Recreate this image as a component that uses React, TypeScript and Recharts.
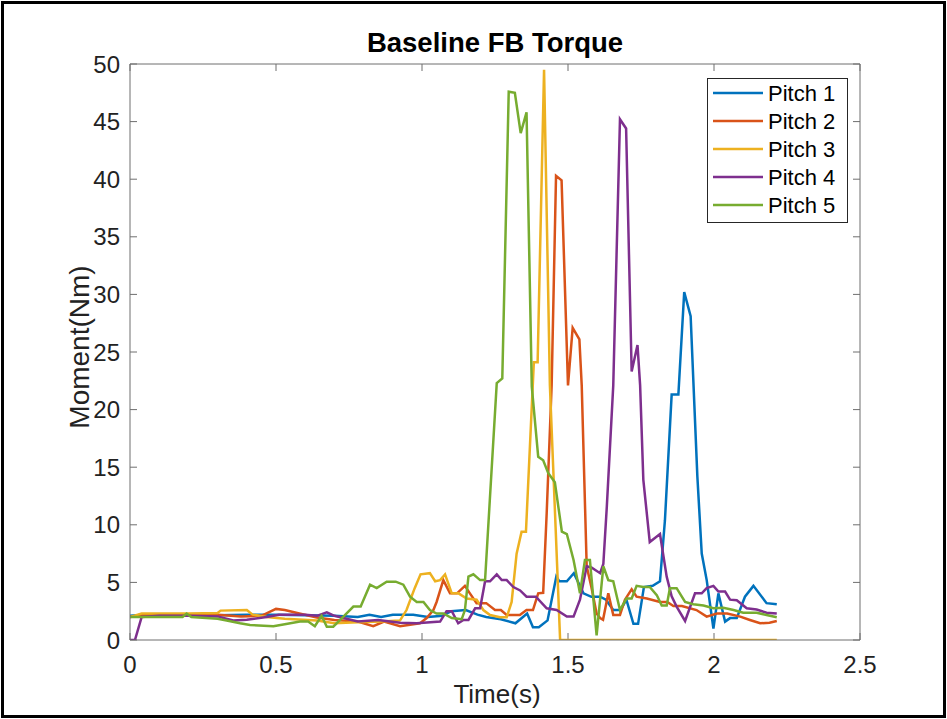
import { LineChart, Line, XAxis, YAxis, ReferenceLine } from 'recharts'

const timeTicks = [0, 0.5, 1, 1.5, 2, 2.5]
const momentTicks = [0, 5, 10, 15, 20, 25, 30, 35, 40, 45, 50]

const pitch1Time = [0, 0.05, 0.2, 0.3, 0.4, 0.5, 0.6, 0.7, 0.78, 0.82, 0.86, 0.9, 0.97, 1.02, 1.07, 1.1, 1.15, 1.19, 1.22, 1.27, 1.32, 1.36, 1.38, 1.4, 1.43, 1.46, 1.47, 1.496, 1.52, 1.553, 1.58, 1.61, 1.63, 1.655, 1.68, 1.7, 1.724, 1.74, 1.76, 1.79, 1.815, 1.832, 1.855, 1.878, 1.898, 1.92, 1.943, 1.958, 1.975, 1.998, 2.015, 2.038, 2.055, 2.078, 2.106, 2.135, 2.18, 2.215]
const pitch1Moment = [2.1, 2.2, 2.2, 2.15, 2.2, 2.2, 2.15, 2.1, 2.0, 2.2, 2.0, 2.2, 2.2, 2.0, 2.1, 2.5, 2.6, 2.2, 2.0, 1.8, 1.45, 2.3, 1.1, 1.1, 1.7, 5.5, 5.1, 5.1, 5.8, 4.05, 3.75, 3.76, 3.5, 2.6, 2.6, 3.5, 1.4, 1.4, 4.6, 4.7, 5.1, 10.4, 21.3, 21.3, 30.2, 28.1, 14.2, 7.5, 5.2, 1.0, 4.05, 1.6, 1.9, 1.9, 3.76, 4.7, 3.2, 3.1]

const pitch2Time = [0, 0.05, 0.2, 0.3, 0.38, 0.45, 0.5, 0.53, 0.58, 0.64, 0.7, 0.78, 0.833, 0.87, 0.925, 0.993, 1.016, 1.039, 1.05, 1.073, 1.096, 1.12, 1.147, 1.164, 1.187, 1.22, 1.25, 1.27, 1.29, 1.335, 1.358, 1.38, 1.398, 1.415, 1.427, 1.444, 1.459, 1.478, 1.5, 1.516, 1.539, 1.547, 1.564, 1.58, 1.598, 1.61, 1.62, 1.638, 1.655, 1.678, 1.695, 1.718, 1.735, 1.77, 1.815, 1.84, 1.861, 1.89, 1.94, 1.975, 2.01, 2.045, 2.09, 2.123, 2.158, 2.19, 2.215]
const pitch2Moment = [2.0, 2.2, 2.2, 2.2, 2.05, 2.1, 2.7, 2.6, 2.3, 1.95, 1.73, 1.6, 1.2, 1.6, 1.2, 1.45, 1.9, 2.6, 3.3, 5.2, 4.05, 4.05, 4.7, 4.05, 3.2, 3.2, 2.6, 2.6, 2.17, 2.17, 2.6, 2.6, 4.05, 4.1, 11.0, 22.1, 40.3, 39.9, 22.1, 27.1, 26.1, 22.1, 6.4, 4.6, 2.3, 1.9, 1.75, 4.05, 2.17, 2.17, 3.5, 4.4, 3.76, 3.6, 3.3, 3.3, 2.95, 2.95, 2.6, 2.03, 2.3, 2.3, 2.03, 1.74, 1.45, 1.5, 1.65]

const pitch3Time = [0, 0.04, 0.2, 0.3, 0.31, 0.4, 0.42, 0.468, 0.53, 0.64, 0.7, 0.78, 0.86, 0.925, 0.947, 0.975, 0.995, 1.027, 1.045, 1.062, 1.079, 1.102, 1.125, 1.153, 1.187, 1.21, 1.233, 1.267, 1.29, 1.307, 1.324, 1.341, 1.356, 1.383, 1.396, 1.418, 1.438, 1.473, 2.215]
const pitch3Moment = [2.0, 2.3, 2.3, 2.35, 2.55, 2.6, 2.2, 2.0, 1.85, 1.7, 1.45, 1.55, 1.6, 1.7, 2.6, 4.5, 5.7, 5.8, 5.1, 5.2, 5.7, 4.05, 4.05, 3.6, 3.5, 2.6, 2.17, 1.97, 1.97, 3.3, 7.5, 9.4, 9.4, 24.1, 24.1, 49.5, 22.1, 0, 0]

const pitch4Time = [0, 0.017, 0.04, 0.1, 0.2, 0.3, 0.33, 0.354, 0.4, 0.468, 0.51, 0.6, 0.64, 0.674, 0.7, 0.78, 0.85, 0.925, 0.982, 1.062, 1.084, 1.102, 1.124, 1.142, 1.159, 1.182, 1.199, 1.216, 1.233, 1.256, 1.273, 1.29, 1.313, 1.336, 1.358, 1.39, 1.427, 1.461, 1.496, 1.519, 1.541, 1.564, 1.58, 1.61, 1.621, 1.633, 1.655, 1.678, 1.699, 1.718, 1.738, 1.747, 1.758, 1.78, 1.815, 1.838, 1.855, 1.872, 1.901, 1.935, 1.958, 1.975, 1.998, 2.015, 2.038, 2.055, 2.078, 2.112, 2.146, 2.18, 2.215]
const pitch4Moment = [0, 0, 2.0, 2.1, 2.1, 2.05, 1.85, 1.7, 1.75, 2.0, 2.2, 2.2, 2.1, 2.4, 2.1, 1.6, 1.73, 1.5, 1.45, 1.6, 2.5, 2.5, 1.45, 1.74, 1.74, 2.75, 2.75, 5.1, 5.1, 5.7, 5.2, 5.2, 4.6, 4.3, 3.76, 3.76, 2.75, 2.6, 2.03, 2.03, 3.5, 6.4, 6.3, 5.8, 6.6, 11.6, 22.1, 45.2, 44.4, 23.3, 25.6, 22.1, 13.9, 8.5, 9.2, 5.5, 3.8, 2.9, 1.65, 4.05, 4.05, 4.5, 4.7, 4.2, 4.2, 3.5, 3.45, 2.75, 2.65, 2.37, 2.3]

const pitch5Time = [0, 0.18, 0.194, 0.21, 0.3, 0.331, 0.377, 0.411, 0.491, 0.53, 0.582, 0.61, 0.633, 0.656, 0.674, 0.696, 0.73, 0.765, 0.79, 0.822, 0.845, 0.879, 0.91, 0.936, 0.959, 0.982, 1.005, 1.027, 1.05, 1.073, 1.102, 1.136, 1.147, 1.159, 1.176, 1.199, 1.216, 1.256, 1.275, 1.297, 1.318, 1.338, 1.358, 1.376, 1.398, 1.415, 1.432, 1.455, 1.479, 1.496, 1.519, 1.541, 1.558, 1.575, 1.598, 1.621, 1.638, 1.655, 1.678, 1.7, 1.718, 1.735, 1.758, 1.78, 1.804, 1.821, 1.838, 1.849, 1.872, 1.901, 1.929, 1.964, 1.998, 2.032, 2.067, 2.1, 2.146, 2.18, 2.215]
const pitch5Moment = [2.0, 2.0, 2.3, 2.0, 1.85, 1.7, 1.45, 1.3, 1.2, 1.36, 1.6, 1.6, 1.2, 2.1, 1.15, 1.15, 2.0, 2.9, 2.9, 4.8, 4.5, 5.06, 5.06, 4.8, 3.76, 3.3, 3.3, 2.6, 2.3, 2.3, 1.9, 1.8, 2.6, 5.5, 5.7, 5.2, 5.2, 22.3, 22.7, 47.6, 47.5, 44.0, 45.8, 22.0, 15.9, 15.6, 14.5, 13.7, 9.4, 9.2, 6.95, 4.05, 6.95, 6.95, 0.4, 6.4, 5.2, 5.1, 2.6, 3.6, 3.6, 4.7, 4.6, 4.6, 3.9, 3.0, 3.0, 4.5, 4.5, 3.3, 3.1, 3.0, 2.75, 2.8, 2.6, 2.37, 2.37, 2.17, 1.97]

const series = [
  { name: 'Pitch 1', color: '#0072BD', time: pitch1Time, moment: pitch1Moment },
  { name: 'Pitch 2', color: '#D95319', time: pitch2Time, moment: pitch2Moment },
  { name: 'Pitch 3', color: '#EDB120', time: pitch3Time, moment: pitch3Moment },
  { name: 'Pitch 4', color: '#7E2F8E', time: pitch4Time, moment: pitch4Moment },
  { name: 'Pitch 5', color: '#77AC30', time: pitch5Time, moment: pitch5Moment },
]

const font = '"Liberation Sans", Arial, sans-serif'
const axisGray = '#6e6e6e'
const ink = '#222'
const X_MAX = 2.5
const Y_MAX = 50
// inner tick length, 7px, expressed in data units (plot area is 730 x 576 px)
const TICK_X = X_MAX * 7 / 730
const TICK_Y = Y_MAX * 7 / 576
const axisStroke = { stroke: axisGray, strokeWidth: 1 }

const BottomTick = (p: any) => (
  <text x={p.x} y={p.y + 33} textAnchor="middle" fontSize={24} fontFamily={font} fill={ink}>{p.payload.value}</text>
)
const LeftTick = (p: any) => (
  <text x={p.x - 10} y={p.y + 8.5} textAnchor="end" fontSize={24} fontFamily={font} fill={ink}>{p.payload.value}</text>
)

export default function App() {
  return (
    <div style={{ position: 'absolute', left: 0, top: 0, width: 947, height: 719, background: '#fff', fontFamily: font }}>
      <LineChart width={947} height={719} margin={{ top: 54, right: 77, bottom: 39, left: 70 }}>
        <XAxis xAxisId={0} dataKey="t" type="number" domain={[0, X_MAX]} ticks={timeTicks} allowDataOverflow interval={0}
          height={40} tickSize={0} tickMargin={0} tickLine={false} axisLine={axisStroke} tick={BottomTick} />
        <XAxis xAxisId="top" orientation="top" type="number" domain={[0, X_MAX]} ticks={timeTicks} allowDataOverflow interval={0}
          height={10} tickSize={0} tickLine={false} axisLine={axisStroke} tick={false} />
        <YAxis yAxisId={0} type="number" domain={[0, Y_MAX]} ticks={momentTicks} allowDataOverflow interval={0}
          width={60} tickSize={0} tickMargin={0} tickLine={false} axisLine={axisStroke} tick={LeftTick} />
        <YAxis yAxisId="right" orientation="right" type="number" domain={[0, Y_MAX]} ticks={momentTicks} allowDataOverflow interval={0}
          width={10} tickSize={0} tickLine={false} axisLine={axisStroke} tick={false} />
        {timeTicks.map(t => (
          <ReferenceLine key={'xb' + t} segment={[{ x: t, y: 0 }, { x: t, y: TICK_Y }]} stroke={axisGray} ifOverflow="visible" />
        ))}
        {timeTicks.map(t => (
          <ReferenceLine key={'xt' + t} segment={[{ x: t, y: Y_MAX - TICK_Y }, { x: t, y: Y_MAX }]} stroke={axisGray} ifOverflow="visible" />
        ))}
        {momentTicks.map(m => (
          <ReferenceLine key={'yl' + m} segment={[{ x: 0, y: m }, { x: TICK_X, y: m }]} stroke={axisGray} ifOverflow="visible" />
        ))}
        {momentTicks.map(m => (
          <ReferenceLine key={'yr' + m} segment={[{ x: X_MAX - TICK_X, y: m }, { x: X_MAX, y: m }]} stroke={axisGray} ifOverflow="visible" />
        ))}
        {series.map(s => (
          <Line key={s.name} name={s.name} data={s.time.map((t, i) => ({ t, v: s.moment[i] }))} dataKey="v"
            type="linear" stroke={s.color} strokeWidth={2.5} dot={false} isAnimationActive={false} />
        ))}
      </LineChart>
      <svg width={947} height={719} style={{ position: 'absolute', left: 0, top: 0, pointerEvents: 'none' }}>
        <text x={495} y={52} textAnchor="middle" fontSize={27.5} fontWeight="bold" fontFamily={font} fill="#000">Baseline FB Torque</text>
        <text x={497} y={703} textAnchor="middle" fontSize={26} fontFamily={font} fill={ink}>Time(s)</text>
        <text transform="translate(89,347) rotate(-90)" textAnchor="middle" fontSize={28} fontFamily={font} fill={ink}>Moment(Nm)</text>
        <g>
          <rect x={707} y={78} width={140} height={144} fill="#fff" stroke="#262626" strokeWidth={1} shapeRendering="crispEdges" />
          {series.map((s, i) => (
            <g key={s.name}>
              <line x1={713} x2={763} y1={93 + i * 28} y2={93 + i * 28} stroke={s.color} strokeWidth={2.5} />
              <text x={768} y={93 + i * 28 + 8} fontSize={22} fontFamily={font} fill="#000">{s.name}</text>
            </g>
          ))}
        </g>
      </svg>
      <div style={{ position: 'absolute', left: 1, top: 1, width: 945, height: 717, border: '3px solid #000', boxSizing: 'border-box', pointerEvents: 'none' }} />
    </div>
  )
}
